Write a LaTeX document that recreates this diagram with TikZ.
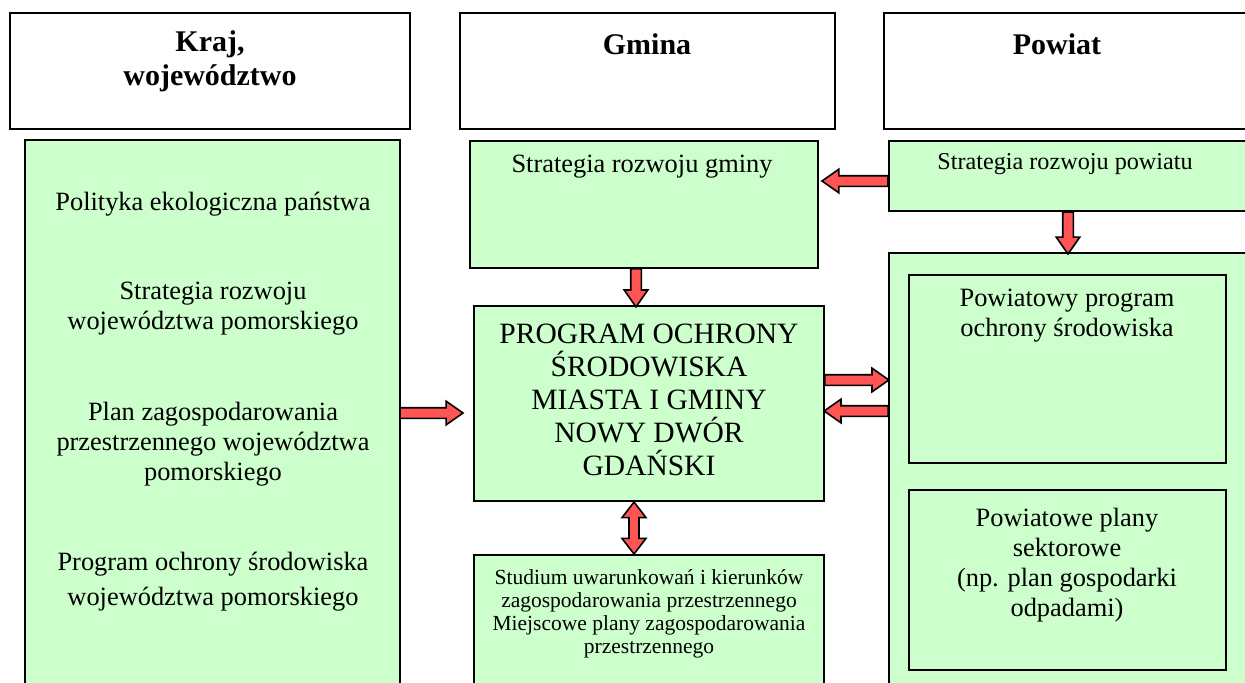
\documentclass[tikz,border=0pt]{standalone}
\usepackage{fontspec}
\setmainfont{Liberation Serif}
\usepackage{xcolor}
\usetikzlibrary{shapes.arrows,fit}
\definecolor{lightgreen}{RGB}{204,255,204}
\definecolor{arrowred}{RGB}{255,85,85}

\tikzset{
	headbox/.style={draw=black, line width=0.8pt, fill=white, inner sep=0pt},
	greenbox/.style={draw=black, line width=0.8pt, fill=lightgreen, inner sep=0pt},
	headtext/.style={align=center, font=\fontsize{15}{17}\selectfont\bfseries},
	bodytext/.style={align=center, font=\fontsize{13.2}{15}\selectfont},
	blockarrow/.style={single arrow, draw=black, line width=0.8pt, fill=arrowred,
		inner xsep=0pt, inner ysep=2.25pt, minimum width=11pt, single arrow head extend=3.25pt,
		single arrow tip angle=70, sloped, allow upside down},
	twoarrow/.style={double arrow, draw=black, line width=0.8pt, fill=arrowred,
		inner xsep=0pt, inner ysep=2.1pt, minimum width=11pt, double arrow head extend=3.5pt,
		double arrow tip angle=75, sloped, allow upside down}
}

\begin{document}
\begin{tikzpicture}[x=0.5pt, y=-0.5pt]
	\useasboundingbox (0,0) rectangle (1245,682);
	\clip (0,0) rectangle (1245,682);
	
	% naglowki
	\node[headbox, fit={(10,13) (410,129)}] (hkraj) {};
	\node[headbox, fit={(460,13) (835,129)}] (hgmina) {};
	\node[headbox, fit={(884,13) (1260,129)}] (hpowiat) {};
	\node[headtext] (tkraj) at (210,61) {Kraj,\\województwo};
	\node[headtext] (tgmina) at (647,44) {Gmina};
	\node[headtext] (tpowiat) at (1057,44) {Powiat};
	
	% bloki
	\node[greenbox, fit={(25,140) (400,700)}] (kraj) {};
	\node[greenbox, fit={(470,141) (818,268)}] (sgmina) {};
	\node[greenbox, fit={(889,141) (1260,211)}] (spowiat) {};
	\node[greenbox, fit={(474,306) (824,501)}] (main) {};
	\node[greenbox, fit={(474,555) (824,700)}] (studium) {};
	\node[greenbox, fit={(889,253) (1260,700)}] (powiat) {};
	\node[greenbox, fit={(909,275) (1226,463)}] (ppos) {};
	\node[greenbox, fit={(909,490) (1226,670)}] (pplany) {};
	
	\node[bodytext] (t1) at (213,204) {Polityka ekologiczna państwa};
	\node[bodytext] (t2) at (213,309) {Strategia rozwoju\\województwa pomorskiego};
	\node[bodytext] (t3) at (213,444) {Plan zagospodarowania\\przestrzennego województwa\\pomorskiego};
	\node[bodytext] (t4) at (213,582) {Program ochrony środowiska\\[2.5pt]województwa pomorskiego};
	\node[bodytext] (tsg) at (642,167) {Strategia rozwoju gminy};
	\node[bodytext, font=\fontsize{12.1}{14}\selectfont] (tsp) at (1065,164) {Strategia rozwoju powiatu};
	\node[align=center, font=\fontsize{14.75}{16.5}\selectfont] (tmain) at (649,400)
		{PROGRAM OCHRONY\\ŚRODOWISKA\\MIASTA I GMINY\\NOWY DWÓR\\GDAŃSKI};
	\node[align=center, font=\fontsize{10.75}{11.5}\selectfont] (tstud) at (649,614)
		{Studium uwarunkowań i kierunków\\zagospodarowania przestrzennego\\Miejscowe plany zagospodarowania\\przestrzennego};
	\node[bodytext] (tpos) at (1067,316) {Powiatowy program\\ochrony środowiska};
	\node[bodytext] (tpl) at (1067,565) {Powiatowe plany\\sektorowe\\(np. plan gospodarki\\odpadami)};
	
	% strzalki
	\path (kraj.east |- 0,413) -- node[blockarrow, pos=0.372, minimum height=31.5pt] (a1) {} (main.west |- 0,413);
	\path (sgmina.south -| 636,0) -- node[blockarrow, pos=0.42, minimum height=19pt] (a2) {} (main.north -| 636,0);
	\path (spowiat.west |- 0,181) -- node[blockarrow, pos=0.424, minimum height=33pt] (a3) {} (sgmina.east |- 0,181);
	\path (spowiat.south -| 1068,0) -- node[blockarrow, pos=0.43, minimum height=21pt] (a4) {} (powiat.north -| 1068,0);
	\path (main.east |- 0,380) -- node[blockarrow, pos=0.446, minimum height=32pt] (a5) {} (powiat.west |- 0,380);
	\path (powiat.west |- 0,411) -- node[blockarrow, pos=0.446, minimum height=32pt] (a6) {} (main.east |- 0,411);
	\path (main.south -| 634,0) -- node[twoarrow, minimum height=26pt] (a7) {} (studium.north -| 634,0);
\end{tikzpicture}
\end{document}
